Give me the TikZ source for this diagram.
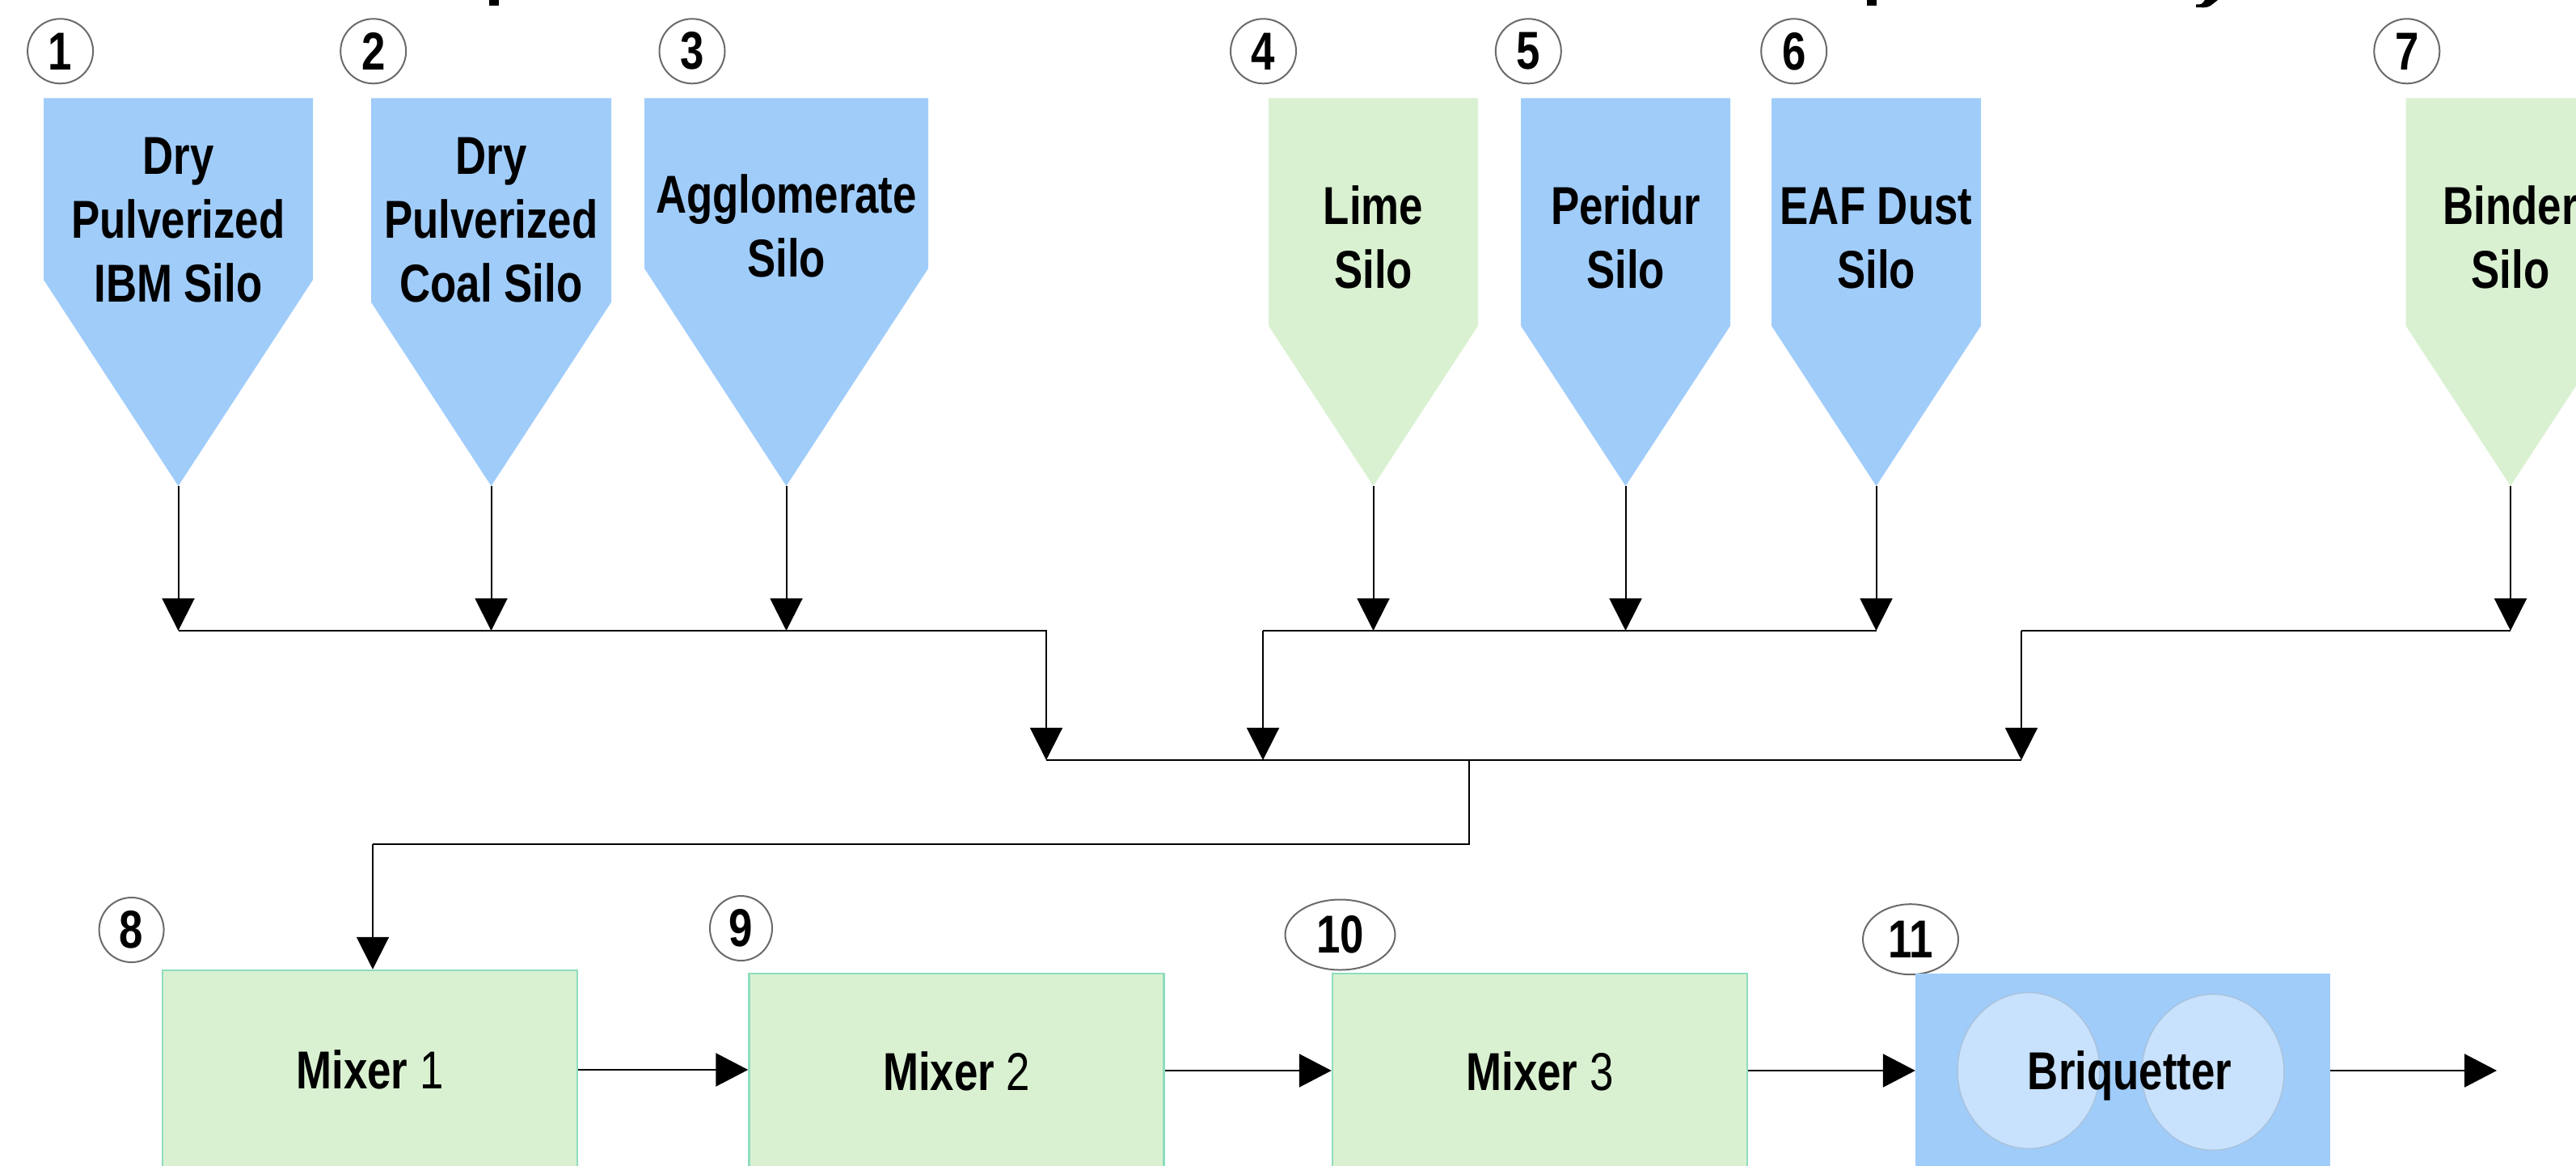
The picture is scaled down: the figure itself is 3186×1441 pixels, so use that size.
\documentclass[tikz,border=0pt]{standalone}
\usepackage{fontspec}
\setmainfont{Liberation Sans}[FakeStretch=0.8]
\usetikzlibrary{arrows.meta,shapes.geometric}
\definecolor{siloblue}{HTML}{A0CCFA}
\definecolor{silogreen}{HTML}{D9F1D1}
\definecolor{mixedge}{HTML}{8EDDBF}
\definecolor{rollfill}{HTML}{C8E1FC}
\definecolor{rolledge}{HTML}{A9C3DD}
\definecolor{ringgray}{HTML}{6A6A6A}
\newcommand\silohop[5]{%
  \fill[#5] (#2,121.4) -- (#3,121.4) -- (#3,#4) -- ({(#2+#3)/2},601) -- (#2,#4) -- cycle;
  \coordinate (#1) at ({(#2+#3)/2},601);}
\begin{document}
\begin{tikzpicture}[x=1pt,y=-1pt,
  bigfont/.style={font=\fontsize{66}{79}\selectfont\bfseries},
  lbl/.style={anchor=base,inner sep=0pt,bigfont},
  numc/.style={ellipse,draw=ringgray,line width=2pt,fill=white,inner sep=0pt,bigfont},
  box/.style={rectangle,minimum width=513pt,inner sep=0pt,text height=47pt,text depth=0pt,font=\fontsize{66}{79}\selectfont},
  mixbox/.style={box,fill=silogreen,draw=mixedge,line width=2.5pt},
  briqbox/.style={box,fill=siloblue},
  roll/.style={ellipse,fill=rollfill,draw=rolledge,line width=1.5pt,minimum width=176pt,minimum height=193pt},
  flow/.style={line width=2pt,black,line join=miter},
  arr/.style={flow,-{Triangle[length=40pt,width=40pt]}},
  arrm/.style={line width=2.5pt,black,-{Triangle[length=40pt,width=41pt]}},
]
\useasboundingbox (0,0) rectangle (3186,1441);
\clip (0,0) rectangle (3186,1441);

% cut-off title fragments
\fill (605,0) rectangle (617,7);
\fill (2309,0) rectangle (2321,7);
\fill (2727,0) -- (2743,0) -- (2734,7) .. controls (2729,9.5) .. (2716,9) -- (2716,5.5) .. controls (2723,5.5) .. (2727,0) -- cycle;

% silos
\silohop{s1}{54}{387}{346}{siloblue}
\silohop{s2}{459}{756}{373.7}{siloblue}
\silohop{s3}{797}{1148}{332}{siloblue}
\silohop{s4}{1569}{1828}{403}{silogreen}
\silohop{s5}{1881}{2140}{403}{siloblue}
\silohop{s6}{2191}{2450}{403}{siloblue}
\silohop{s7}{2975.5}{3234.5}{403}{silogreen}

% silo texts
\node[lbl] (t1a) at (220.5,215.5) {Dry};
\node[lbl] (t1b) at (220.5,294.6) {Pulverized};
\node[lbl] (t1c) at (220.5,373.7) {IBM Silo};
\node[lbl] (t2a) at (607.5,215.5) {Dry};
\node[lbl] (t2b) at (607.5,294.6) {Pulverized};
\node[lbl] (t2c) at (607.5,373.7) {Coal Silo};
\node[lbl] (t3a) at (972.5,263) {Agglomerate};
\node[lbl] (t3b) at (972.5,342) {Silo};
\node[lbl] (t4a) at (1698.5,277) {Lime};
\node[lbl] (t4b) at (1698.5,356) {Silo};
\node[lbl] (t5a) at (2010.5,277) {Peridur};
\node[lbl] (t5b) at (2010.5,356) {Silo};
\node[lbl] (t6a) at (2320.5,277) {EAF Dust};
\node[lbl] (t6b) at (2320.5,356) {Silo};
\node[lbl] (t7a) at (3105,277) {Binder};
\node[lbl] (t7b) at (3105,356) {Silo};

% number marks
\node[numc,minimum width=81pt,minimum height=80pt] (n1) at (74.6,63.3) {1};
\node[numc,minimum width=81pt,minimum height=80pt] (n2) at (461.7,63.3) {2};
\node[numc,minimum width=81pt,minimum height=80pt] (n3) at (856,63.3) {3};
\node[numc,minimum width=81pt,minimum height=80pt] (n4) at (1562.5,63.3) {4};
\node[numc,minimum width=81pt,minimum height=80pt] (n5) at (1890.3,63.3) {5};
\node[numc,minimum width=81pt,minimum height=80pt] (n6) at (2218.7,63.3) {6};
\node[numc,minimum width=81pt,minimum height=80pt] (n7) at (2976.8,63.3) {7};
\node[numc,minimum width=80pt,minimum height=80pt] (n8) at (162.6,1150) {8};
\node[numc,minimum width=77pt,minimum height=80pt] (n9) at (916.5,1148) {9};
\node[numc,minimum width=136pt,minimum height=87pt] (n10) at (1657.5,1156) {10};
\node[numc,minimum width=118pt,minimum height=87pt] (n11) at (2363,1161.7) {11};

% process boxes
\node[mixbox,minimum height=246pt] (m1) at (457.5,1323) {\textbf{Mixer} 1};
\node[mixbox,minimum height=242pt] (m2) at (1183,1325) {\textbf{Mixer} 2};
\node[mixbox,minimum height=242pt] (m3) at (1904.5,1325) {\textbf{Mixer} 3};
\node[briqbox,minimum height=242pt] (bq) at (2625.5,1325) {};
\node[roll] (r1) at (2509,1324) {};
\node[roll] (r2) at (2737,1326) {};
\node[lbl,anchor=center,text height=47pt,text depth=0pt] (bqt) at (2634,1324) {Briquetter};

% junction points
\coordinate (j1) at (220.5,780);
\coordinate (j2) at (607.5,780);
\coordinate (j3) at (972.5,780);
\coordinate (j1r) at (1294,780);
\coordinate (mL) at (1294,940);
\coordinate (j4) at (1698.5,780);
\coordinate (j5) at (2010.5,780);
\coordinate (j6) at (2320.5,780);
\coordinate (j2l) at (1562,780);
\coordinate (mM) at (1562,940);
\coordinate (j7) at (3105,780);
\coordinate (j3l) at (2500,780);
\coordinate (mR) at (2500,940);
\coordinate (dtop) at (1817,940);
\coordinate (dbot) at (1817,1044);
\coordinate (dleft) at (461,1044);
\coordinate (outp) at (3088,1324);

% silo feeds
\draw[arr] (s1) -- (j1);
\draw[arr] (s2) -- (j2);
\draw[arr] (s3) -- (j3);
\draw[arr] (s4) -- (j4);
\draw[arr] (s5) -- (j5);
\draw[arr] (s6) -- (j6);
\draw[arr] (s7) -- (j7);

% collecting lines
\draw[arr] (j1) -- (j1r) -- (mL);
\draw[flow] (j6) -- (j2l);
\draw[arr] (j2l) -- (mM);
\draw[flow] (j7) -- (j3l);
\draw[arr] (j3l) -- (mR);
\draw[flow] (mL) -- (mR);
\draw[flow] (dtop) -- (dbot) -- (dleft);
\draw[arr] (dleft) -- (dleft |- m1.north);

% process line
\draw[arrm] (m1.east) -- (m1.east -| m2.west);
\draw[arrm] (m2.east |- 0,1324) -- (m3.west |- 0,1324);
\draw[arrm] (m3.east |- 0,1324) -- (bq.west |- 0,1324);
\draw[arrm] (bq.east |- outp) -- (outp);
\end{tikzpicture}
\end{document}
